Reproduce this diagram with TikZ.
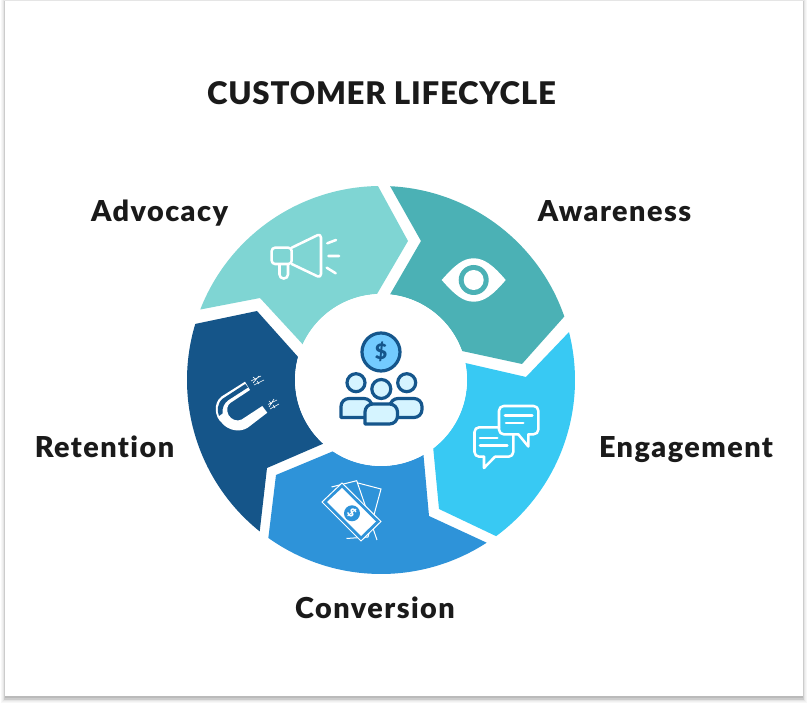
\documentclass[tikz,border=0pt]{standalone}
\usepackage{fontspec}
\setmainfont{Lato}
\newfontfamily\titlefont[LetterSpace=2.5,Ligatures=NoCommon]{Lato Black}
\newfontfamily\labelfont[LetterSpace=5,Ligatures=NoCommon]{Lato Black}
\newfontfamily\glyphfont{Lato Black}
\definecolor{inkblack}{HTML}{1A1A1A}
\definecolor{segadvocacy}{HTML}{7FD5D3}
\definecolor{segawareness}{HTML}{4BB1B5}
\definecolor{segengagement}{HTML}{38C9F3}
\definecolor{segconversion}{HTML}{2E93D9}
\definecolor{segretention}{HTML}{155589}
\definecolor{icondark}{HTML}{15568C}
\definecolor{iconcoin}{HTML}{73CBFF}
\definecolor{iconpale}{HTML}{D5F4FF}
\tikzset{
  titletext/.style={font=\titlefont\fontsize{23.4}{27}\selectfont,text=inkblack,inner sep=0pt,anchor=base},
  steplabel/.style={font=\labelfont\fontsize{21.6}{25}\selectfont,text=inkblack,inner sep=0pt,anchor=base},
  whiteline/.style={draw=white,line width=1.9pt,line join=round,line cap=round},
  thinline/.style={draw=white,line width=.75pt,line join=miter},
  peopleline/.style={draw=icondark,line width=2.4pt,line join=round},
}
\begin{document}
\begin{tikzpicture}[x=.75pt,y=-.75pt]
\useasboundingbox (0,0) rectangle (808,705);
\fill[white] (0,0) rectangle (808,705);

% soft card shadow
\fill[black!3] (1,0) rectangle (807,703);
\fill[black!6] (2,0) rectangle (806,702);
\fill[black!10] (3,0) rectangle (805,701.5);
\fill[black!20] (4,1) rectangle (804,700);
\fill[black!27] (5,1.5) rectangle (803,698);
\fill[white] (5,1.5) rectangle (803,696);

% ring segments, drawn about the centre of the wheel
\begin{scope}[shift={(381,380)},y=.75pt]
\def\Ro{194}\def\Ri{86}
\fill[segadvocacy] (158.7:\Ro) arc[start angle=158.7,end angle=90.9,radius=\Ro]
  -- (27,139) -- (92.7:\Ri) arc[start angle=92.7,end angle=155.5,radius=\Ri]
  -- (-121,82) -- cycle;
\fill[segawareness] (87.3:\Ro) arc[start angle=87.3,end angle=19.1,radius=\Ro]
  -- (141,16) -- (81,29) arc[start angle=19.7,end angle=84,radius=\Ri]
  -- (40,139) -- cycle;
\fill[segengagement] (14.3:\Ro) arc[start angle=14.3,end angle=-53.6,radius=\Ro]
  -- (58,-129) -- (-52.6:\Ri) arc[start angle=-52.6,end angle=11.4,radius=\Ri]
  -- (145,3) -- cycle;
\fill[segconversion] (-57:\Ro) arc[start angle=-57,end angle=-125.5,radius=\Ro]
  -- (-105,-95) -- (-124:\Ri) arc[start angle=-124,end angle=-60.4,radius=\Ri]
  -- (48,-136) -- cycle;
\fill[segretention] (163.2:\Ro) arc[start angle=163.2,end angle=231.3,radius=\Ro]
  -- (-114,-88) -- (227.8:\Ri) arc[start angle=227.8,end angle=164.5,radius=\Ri]
  -- (-124,69) -- cycle;
\end{scope}

% megaphone
\draw[whiteline,rounded corners=2.5pt] (271.7,247.7) rectangle (291.7,264);
\draw[whiteline,rounded corners=3pt] (291.7,247.7) -- (321,233.5) -- (321,278) -- (291.7,264);
\draw[whiteline,rounded corners=3pt] (279.5,265) -- (279.5,278.5) -- (288,278.5) -- (288,265);
\draw[whiteline] (327.3,243.3) -- (336,240) (328.3,256) -- (339,256) (326.7,267.7) -- (335.7,273.3);

% eye
\fill[white] (441.7,280) .. controls (455,265) and (463,258.3) .. (473.7,258.3)
  .. controls (484,258.3) and (493,265) .. (505.7,280)
  .. controls (493,295) and (484,301.7) .. (473.7,301.7)
  .. controls (463,301.7) and (455,295) .. (441.7,280) -- cycle;
\fill[segawareness] (473.7,280) circle[radius=15];
\fill[white] (473.7,280) circle[radius=10];

% speech bubbles
\draw[whiteline,rounded corners=3.5pt] (499,427.3) -- (474.5,427.3) -- (474.5,456.7) -- (484,456.7);
\draw[whiteline] (484,456.7) -- (484,468) -- (495,456.7);
\draw[whiteline,rounded corners=3.5pt] (495,456.7) -- (513.3,456.7) -- (513.3,435);
\draw[whiteline] (480,438) -- (497.3,438) (480,445.7) -- (507.3,445.7);
\draw[whiteline,rounded corners=3.5pt] (518.3,434.3) -- (499,434.3) -- (499,406) -- (538.3,406) -- (538.3,434.3) -- (528.3,434.3);
\draw[whiteline] (518.3,434.3) -- (528.3,446.5) -- (528.3,434.3);
\draw[whiteline] (505,415.7) -- (532.3,415.7) (506,423) -- (523.3,423);

% banknotes
\draw[thinline] (331.5,487) -- (356.7,480.7) -- (377,540);
\draw[thinline] (358,483) -- (381,489) -- (368,537) -- (346.5,538.5);
\fill[segconversion] (322,502) -- (342,483) -- (381,521.5) -- (361,541) -- cycle;
\draw[thinline] (322,502) -- (342,483) -- (381,521.5) -- (361,541) -- cycle;
\fill[white] (327,502) -- (342,488) -- (376,521.5) -- (361,536) -- cycle;
\fill[segconversion] (352,513.3) circle[radius=8];
\node[font=\glyphfont\fontsize{9}{9}\selectfont,text=white,rotate=-45,inner sep=0pt] (noteglyph) at (352,513.3) {\$};

% magnet
\fill[white] (245,381.7) -- (221.5,396.5)
  .. controls (213,403) and (214.5,417) .. (222,423)
  .. controls (228,430.5) and (240,433) .. (248,427.5)
  -- (267.3,412.7) -- (262.3,406) -- (241.7,419.5)
  .. controls (237,422) and (231,419.5) .. (228.5,415)
  .. controls (226,410) and (227,405) .. (231,402.5)
  -- (250,390) -- cycle;
\fill[segretention] (245.3,384) -- (223,398.5)
  .. controls (217,403) and (217,411) .. (219,416)
  -- (222.5,413.5)
  .. controls (222,408) and (224,403) .. (228.5,400)
  -- (248,387.5) -- cycle;
\draw[white,line width=.45pt]
  (251,381) -- (261,376) (253,383) -- (259,376) (254,385) -- (264,380)
  (253,377) -- (256,379.5) (257,381) -- (259,384)
  (268,404.5) -- (277,400) (269,407) -- (274,399) (270,409) -- (279,404)
  (269,401) -- (272,404) (273,405) -- (275,408);

% centre disc with the people and the coin
\fill[white] (381,380) circle[radius=86];
\draw[peopleline,fill=iconcoin] (381,352) circle[radius=19];
\node[font=\glyphfont\fontsize{16}{16}\selectfont,text=icondark,inner sep=0pt] (coinglyph) at (381,352) {\$};
\draw[peopleline,fill=iconpale] (356,382.7) circle[radius=9];
\draw[peopleline,fill=iconpale] (406.7,382.7) circle[radius=9];
\draw[peopleline,fill=iconpale] (381.3,389) circle[radius=9.5];
\draw[peopleline,fill=iconpale,rounded corners=6pt] (341,417.5) -- (341,398.5) -- (372,398.5) -- (372,417.5) [sharp corners] -- cycle;
\draw[peopleline,fill=iconpale,rounded corners=6pt] (390,417.5) -- (390,398.5) -- (422,398.5) -- (422,417.5) [sharp corners] -- cycle;
\draw[peopleline,fill=iconpale,rounded corners=6pt] (365,424) -- (365,404) -- (397.5,404) -- (397.5,424) [sharp corners] -- cycle;

% texts
\node[titletext] (title) at (381.5,105) {CUSTOMER LIFECYCLE};
\node[steplabel] (advocacy) at (159.5,222) {Advocacy};
\node[steplabel] (awareness) at (614.5,222) {Awareness};
\node[steplabel] (engagement) at (686,458) {Engagement};
\node[steplabel] (retention) at (104.5,458) {Retention};
\node[steplabel] (conversion) at (375,619) {Conversion};
\end{tikzpicture}
\end{document}
